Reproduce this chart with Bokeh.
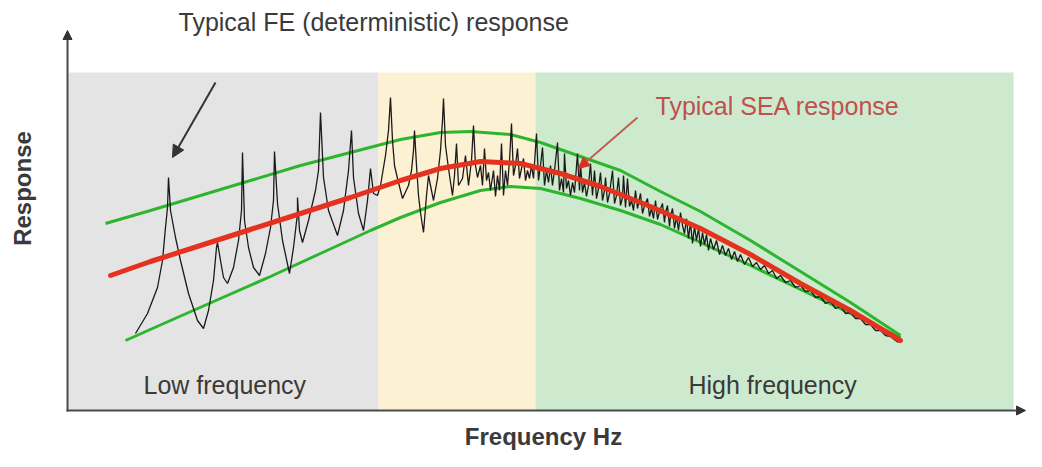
import math
from bokeh.plotting import figure
from bokeh.models import Range1d, Label, Arrow, NormalHead
from bokeh.embed import file_html
from bokeh.resources import INLINE

# Frequency bands (frequency units along the horizontal axis)
band_names = ["Low frequency", "Mid frequency", "High frequency"]
band_start = [67, 378, 535]
band_end = [378, 535, 1013]
band_colors = ["#e4e4e4", "#fdf1d4", "#cdeacf"]
band_top = -72
band_bottom = -410

# Typical SEA response (mean level)
sea_freq = [110, 150, 200, 250, 300, 350, 400, 440, 480, 520, 560, 600, 650, 700, 750, 800, 850, 900]
sea_resp = [-275, -261, -245, -229, -213, -197, -180, -168, -161, -163, -173, -186, -206, -228, -254, -283, -310, -340]

# Upper envelope
upper_freq = [105, 150, 200, 250, 300, 350, 400, 440, 470, 510, 540, 580, 620, 660, 700, 750, 800, 850, 900]
upper_resp = [-223, -210, -195, -180, -165, -152, -139, -132, -131, -134, -142, -156, -170, -191, -211, -240, -271, -302, -335]

# Lower envelope
lower_freq = [125, 170, 220, 270, 320, 370, 400, 440, 480, 510, 540, 580, 620, 660, 700, 750, 800, 850, 900]
lower_resp = [-340, -320, -298, -276, -253, -230, -217, -202, -190, -186, -188, -198, -210, -224, -242, -265, -289, -313, -337]

# Typical FE (deterministic) response
fe_freq = [
    135, 147, 157, 162, 165, 167, 168, 170, 175, 180, 188, 197, 203, 208, 213, 216, 217, 220, 223, 227,
    233, 238, 241, 242, 244, 248, 253, 259, 265, 270, 273, 274, 277, 282, 289, 293, 297, 297, 299, 302,
    308, 315, 318, 320, 323, 328, 337, 343, 348, 351, 353, 358, 363, 367, 370, 373, 377, 380, 385, 388,
    390, 392, 394, 397, 402, 408, 411, 413, 414, 416, 418, 420, 423, 426, 428, 430, 433, 437, 440, 442,
    443, 445, 448, 452, 454, 456, 458, 462, 465, 468, 471, 473, 475, 477, 480, 482, 484, 486, 488, 490,
    493, 495, 497, 499, 501, 503, 505, 507, 509, 511, 513, 515, 517, 519, 521, 523, 525, 527, 529, 531,
    533, 536, 538, 540, 542, 544, 546, 548, 550, 552, 554, 557, 559, 561, 563, 564, 566, 568, 570, 572,
    574, 577, 579, 580, 582, 584, 586, 588, 590, 592, 594, 596, 598, 600, 602, 604, 605, 607, 609, 612,
    614, 616, 618, 620, 622, 623, 625, 627, 629, 631, 633, 635, 637, 640, 642, 644, 647, 649, 651, 653,
    655, 657, 659, 662, 664, 665, 667, 669, 670, 672, 674, 676, 678, 680, 682, 684, 686, 688, 690, 692,
    694, 696, 698, 700, 702, 704, 706, 708, 710, 713, 716, 719, 722, 725, 728, 731, 734, 737, 740, 744,
    748, 752, 756, 760, 764, 768, 772, 776, 780, 785, 790, 795, 800, 805, 810, 815, 820, 825, 830, 835,
    840, 845, 850, 855, 860, 865, 870, 875, 880, 885, 890, 895, 898,
]
fe_resp = [
    -333, -313, -287, -260, -227, -207, -177, -210, -237, -260, -293, -320, -328, -310, -280, -247, -242, -260, -277, -283,
    -267, -240, -210, -152, -220, -247, -267, -275, -253, -227, -200, -151, -203, -240, -273, -247, -213, -197, -230, -242,
    -220, -190, -170, -112, -177, -210, -235, -210, -170, -130, -177, -213, -230, -200, -168, -193, -195, -185, -155, -130,
    -97, -140, -165, -178, -198, -185, -170, -150, -130, -165, -195, -212, -232, -195, -175, -185, -200, -178, -150, -120,
    -98, -145, -168, -195, -175, -143, -185, -178, -155, -185, -160, -125, -165, -177, -165, -185, -148, -180, -172, -190,
    -170, -196, -175, -190, -143, -195, -170, -185, -160, -123, -175, -165, -148, -178, -168, -158, -180, -170, -178, -165,
    -178, -133, -180, -165, -147, -185, -170, -182, -165, -185, -170, -142, -190, -178, -192, -153, -188, -180, -195, -182,
    -192, -153, -190, -163, -192, -182, -196, -185, -163, -195, -170, -198, -188, -172, -200, -190, -177, -202, -193, -170,
    -203, -195, -177, -205, -197, -175, -207, -178, -206, -200, -210, -190, -208, -193, -213, -205, -198, -216, -208, -218,
    -200, -219, -211, -203, -222, -212, -205, -226, -216, -208, -228, -216, -230, -212, -225, -233, -218, -238, -222, -243,
    -226, -240, -228, -246, -232, -244, -234, -250, -238, -249, -240, -254, -245, -255, -248, -259, -251, -261, -254, -264,
    -257, -266, -262, -269, -265, -273, -270, -278, -275, -282, -280, -287, -285, -291, -290, -297, -296, -303, -301, -308,
    -306, -313, -312, -318, -318, -324, -324, -330, -330, -335, -336, -340, -342,
]

FONT = "Liberation Sans"
TXT = "#3a3a3a"

p = figure(width=1026, height=451, x_range=Range1d(0, 1026), y_range=Range1d(-451, 0),
           toolbar_location=None, output_backend="svg", x_axis_type=None, y_axis_type=None,
           min_border=0, outline_line_color=None, background_fill_color="white")
p.grid.visible = False

p.quad(left=band_start, right=band_end, top=band_top, bottom=band_bottom,
       fill_color=band_colors, line_color=None)

p.line(upper_freq, upper_resp, line_color="#2db52d", line_width=3)
p.line(lower_freq, lower_resp, line_color="#2db52d", line_width=3)
p.line(fe_freq, fe_resp, line_color="#1a1a1a", line_width=1.3)
p.line(sea_freq, sea_resp, line_color="#e5321f", line_width=5, line_cap="round")

# axes with arrows
p.add_layout(Arrow(end=NormalHead(size=9, fill_color="#333333", line_color="#333333"),
                   x_start=67, y_start=-411, x_end=67, y_end=-30,
                   line_color="#4a4a4a", line_width=2))
p.add_layout(Arrow(end=NormalHead(size=9, fill_color="#333333", line_color="#333333"),
                   x_start=66, y_start=-410, x_end=1025, y_end=-410,
                   line_color="#4a4a4a", line_width=2))

# pointer arrows
p.add_layout(Arrow(end=NormalHead(size=12, fill_color="#333333", line_color="#333333"),
                   x_start=215, y_start=-82, x_end=172, y_end=-157,
                   line_color="#333333", line_width=2))
p.add_layout(Arrow(end=NormalHead(size=11, fill_color="#d8321f", line_color="#d8321f"),
                   x_start=637, y_start=-117, x_end=578, y_end=-168,
                   line_color="#c0604a", line_width=2))

# texts
p.add_layout(Label(x=178, y=-21, text="Typical FE (deterministic) response", text_font=FONT,
                   text_font_size="25px", text_color=TXT, text_baseline="middle"))
p.add_layout(Label(x=655, y=-105, text="Typical SEA response", text_font=FONT,
                   text_font_size="25px", text_color="#c0504d", text_baseline="middle"))
p.add_layout(Label(x=143, y=-384, text=band_names[0], text_font=FONT,
                   text_font_size="25px", text_color=TXT, text_baseline="middle"))
p.add_layout(Label(x=688, y=-384, text=band_names[2], text_font=FONT,
                   text_font_size="25px", text_color=TXT, text_baseline="middle"))
p.add_layout(Label(x=543, y=-436, text="Frequency Hz", text_font=FONT, text_font_style="bold",
                   text_font_size="24px", text_color=TXT, text_align="center", text_baseline="middle"))
p.add_layout(Label(x=22, y=-188, text="Response", text_font=FONT, text_font_style="bold",
                   text_font_size="24px", text_color=TXT, text_align="center", text_baseline="middle",
                   angle=math.pi / 2))

open("out.html", "w").write(file_html(p, INLINE))
